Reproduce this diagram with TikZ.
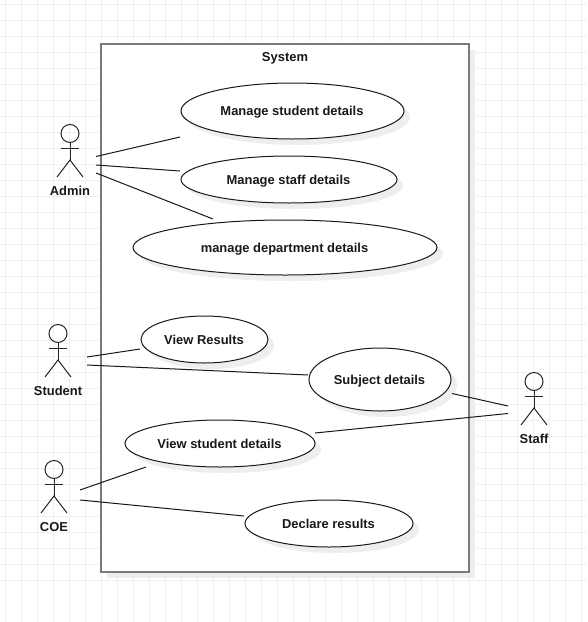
\documentclass[tikz,border=0pt]{standalone}
\usepackage{fontspec}
\setmainfont{Liberation Sans}
\definecolor{gridc}{HTML}{F0F0F0}
\definecolor{shadc}{HTML}{EEEEEE}
\definecolor{sysc}{HTML}{7A7A7A}
\tikzset{
  lbl/.style={font=\fontsize{9.7pt}{11pt}\selectfont\bfseries, text=black!90, inner sep=0pt, anchor=base},
  link/.style={draw=black!90, line width=0.75pt},
  usecase/.style={draw=black!90, line width=0.75pt, fill=white},
  shad/.style={fill=shadc, draw=none},
  act/.style={draw=black!85, line width=0.75pt},
  pics/actor/.style={code={
    \draw[act] (0,-9) circle [radius=9];
    \draw[act] (0,0) -- (0,17.5);
    \draw[act] (-9,6) -- (9,6);
    \draw[act] (-13,34.5) -- (0,17.5) -- (13,34.5);
  }}
}
\newcommand{\ucase}[6]{% name, cx, cy, rx, ry, text
  \fill[shad] (#2+6,#3+6) ellipse [x radius=#4, y radius=#5];
  \draw[usecase] (#2,#3) ellipse [x radius=#4, y radius=#5];
  \node[lbl] (#1) at (#2-0.5,#3+4.6) {#6};
}
\begin{document}
\begin{tikzpicture}[x=0.75pt,y=-0.75pt]
\useasboundingbox (0,0) rectangle (587,622);
\fill[white] (0,0) rectangle (587,622);
\foreach \k in {0,...,36} {
  \draw[gridc, line width=0.75pt] ({5.5+16*\k},0) -- ({5.5+16*\k},622);
  \draw[gridc, line width=0.75pt] (0,{4.5+16*\k}) -- (587,{4.5+16*\k});
}
\fill[shad] (107,50) rectangle (475,578);
\draw[sysc, line width=1.5pt, fill=white] (101,44) rectangle (469,572);
\node[lbl] (system) at (285,61) {System};

\ucase{uc1}{292.5}{111}{111.5}{28}{Manage student details}
\ucase{uc2}{289}{179.5}{108}{23.5}{Manage staff details}
\ucase{uc3}{285}{247.5}{152}{27.5}{manage department details}
\ucase{uc4}{204.5}{339.5}{63.5}{23.5}{View Results}
\ucase{uc5}{380}{379.5}{71}{31.5}{Subject details}
\ucase{uc6}{220}{443.5}{95}{23.5}{View student details}
\ucase{uc7}{329}{523.5}{84}{23.5}{Declare results}

\pic at (70,142.5) {actor};
\node[lbl] (admin) at (70,195) {Admin};
\pic at (58,342.5) {actor};
\node[lbl] (student) at (58,395) {Student};
\pic at (54,478.5) {actor};
\node[lbl] (coe) at (54,531) {COE};
\pic at (534,390.5) {actor};
\node[lbl] (staff) at (534,443) {Staff};

\coordinate (a1) at (96,156.5); \coordinate (u1) at (180,137);
\coordinate (a2) at (96,165);   \coordinate (u2) at (180,171);
\coordinate (a3) at (96,173);   \coordinate (u3) at (213,219);
\coordinate (s1) at (87,357);   \coordinate (u4) at (140,349);
\coordinate (s2) at (87,365);   \coordinate (u5) at (308,375);
\coordinate (t1) at (508,406);  \coordinate (u5b) at (452,393.5);
\coordinate (t2) at (508,413.5);\coordinate (u6) at (315,433);
\coordinate (c1) at (80,490);   \coordinate (u6b) at (146,467);
\coordinate (c2) at (80,500);   \coordinate (u7) at (244,516);
\draw[link] (a1) -- (u1);
\draw[link] (a2) -- (u2);
\draw[link] (a3) -- (u3);
\draw[link] (s1) -- (u4);
\draw[link] (s2) -- (u5);
\draw[link] (t1) -- (u5b);
\draw[link] (t2) -- (u6);
\draw[link] (c1) -- (u6b);
\draw[link] (c2) -- (u7);
\end{tikzpicture}
\end{document}
